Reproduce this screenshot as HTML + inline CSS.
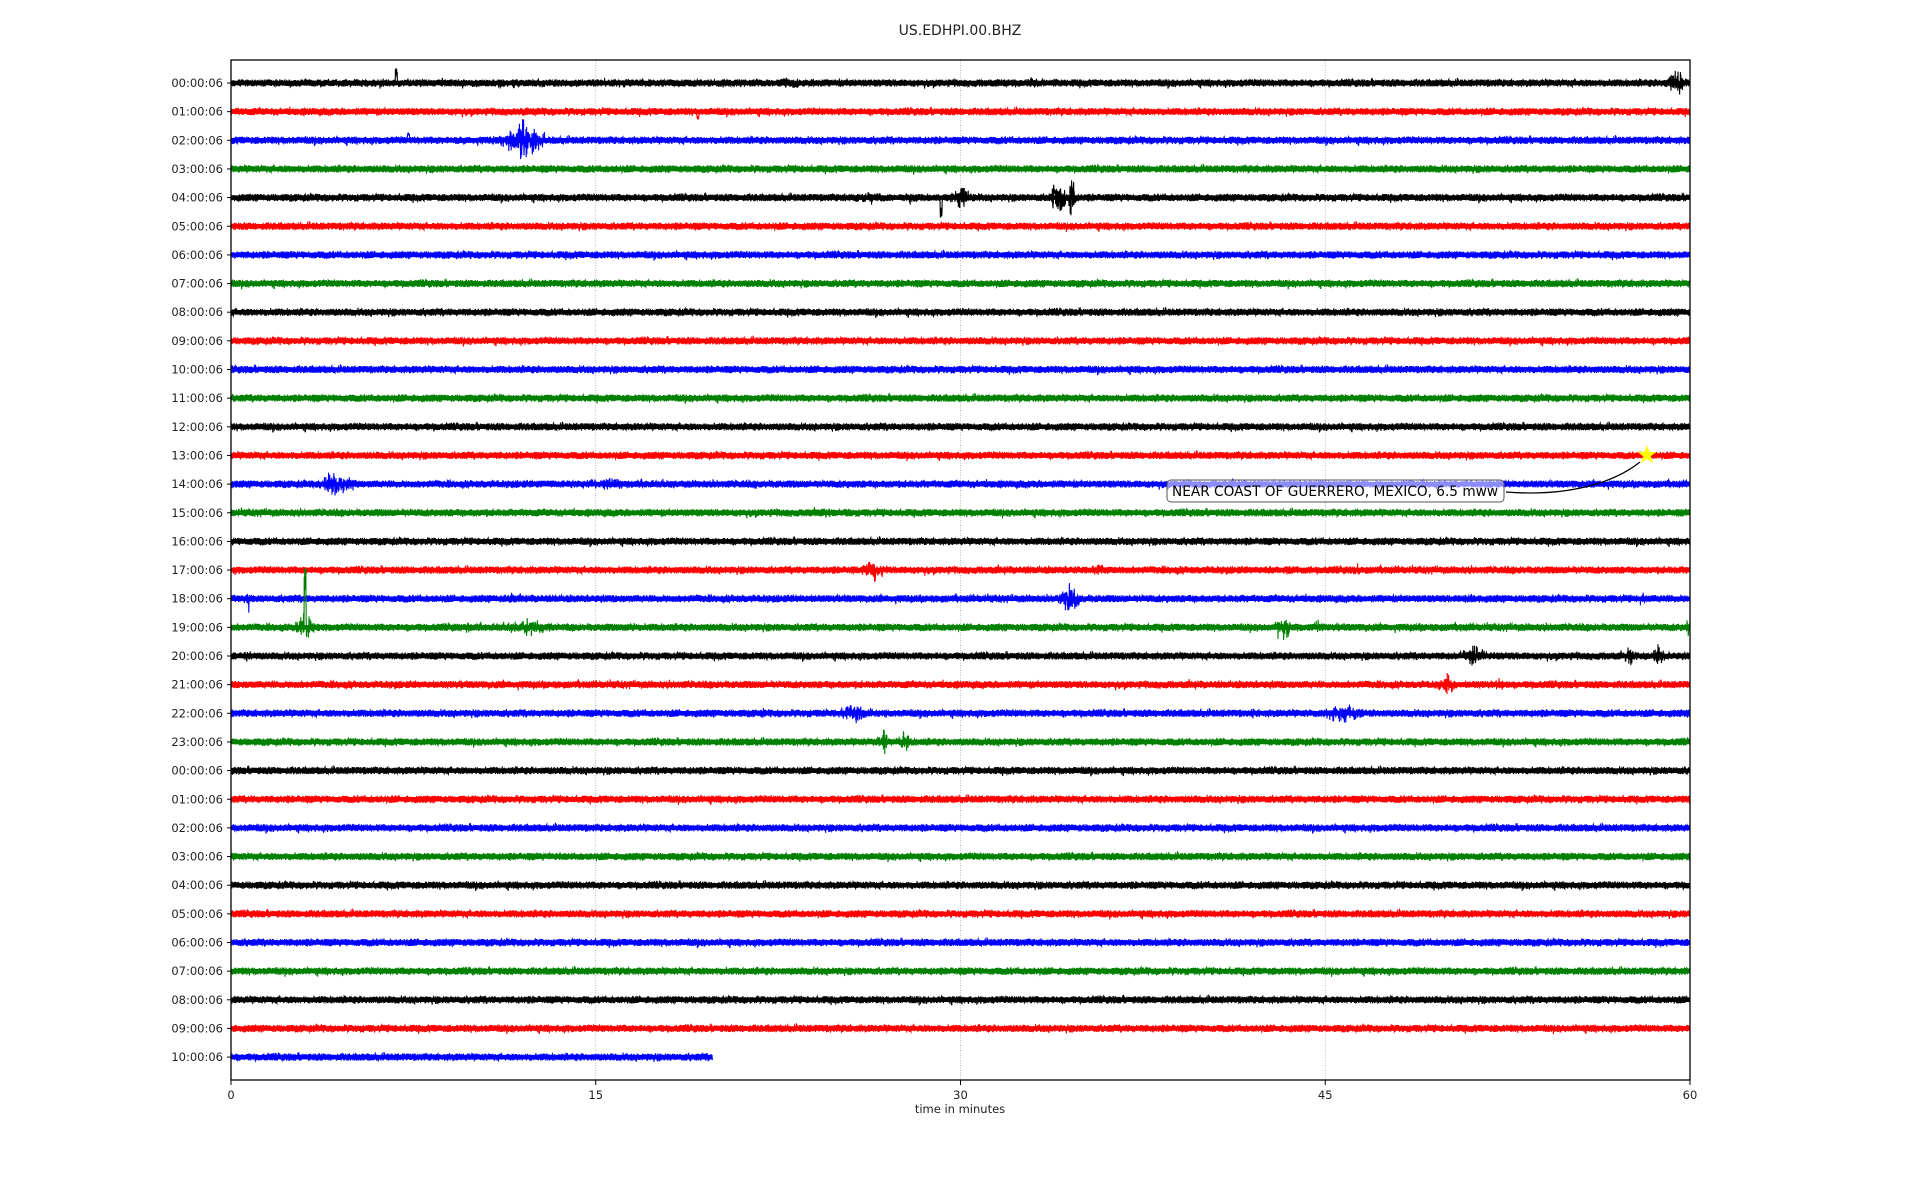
<!DOCTYPE html>
<html><head><meta charset="utf-8"><style>
html,body{margin:0;padding:0;background:#fff;width:1920px;height:1200px;overflow:hidden}
svg{display:block}
text{font-family:"DejaVu Sans","Liberation Sans",sans-serif;fill:#222}
</style></head><body>
<svg id="s" width="1920" height="1200" xmlns="http://www.w3.org/2000/svg">
<text x="960" y="35" text-anchor="middle" font-size="14">US.EDHPI.00.BHZ</text>
<text x="960" y="1113" text-anchor="middle" font-size="11.5">time in minutes</text>
<g id="grid"></g>
<g id="traces"></g>
<g id="axes"></g>
<path d="M1506,492 C1570,497 1615,482 1640,462" fill="none" stroke="#000" stroke-width="1.3"/>
<rect x="1167" y="480" width="337" height="22" rx="4" fill="#fff" fill-opacity="0.55" stroke="#555" stroke-width="1"/>
<text x="1172" y="496" font-size="14" textLength="326" lengthAdjust="spacingAndGlyphs" style="fill:#000">NEAR COAST OF GUERRERO, MEXICO, 6.5 mww</text>
<polygon id="star" fill="#ffff00"/>
</svg>
<script>
var L=231,R=1690,T=60,B=1080,y0=83,dy=28.65;
function px(m){return L+(R-L)*m/60;}
var cols=["#000","#f00","#00f","#008000"];
var labels=[];for(var i=0;i<24;i++)labels.push(i);for(var i=0;i<=10;i++)labels.push(i);
var ev={0:[[6.8,15,0.1,1],[12.8,5,1],[23,6,1.5],[33,5,1.5],[59.5,15,0.6]],
1:[[12,4,0.6],[19.2,8,0.1,-1]],
2:[[7.3,8,0.1,1],[9.5,6,0.2],[12,22,1.2]],
4:[[26.3,8,1],[27.9,10,0.3],[29.2,20,0.1,-1],[30,12,0.8],[34,20,0.5],[34.6,30,0.2]],
14:[[4.4,14,1.2],[15.5,6,3]],15:[[24.5,5,1]],
17:[[26.4,14,0.8],[35.7,6,1],[43.5,5,1],[46.3,8,0.2]],
18:[[0.7,12,0.2],[11.5,8,0.3],[34.5,20,0.6],[51,6,0.4],[58,10,0.2]],
19:[[3,15,0.8],[3.05,60,0.05,1],[9.8,7,0.6],[12.2,10,1.6],[16.5,6,0.3],[43.3,14,0.6],[44.7,8,0.4],[59.9,10,0.2]],
20:[[0.7,8,0.3],[51.1,12,0.9],[57.5,12,0.3],[58.7,10,0.5]],
21:[[50,12,0.6],[52.2,8,0.4]],
22:[[21.9,7,0.2],[25.7,10,1.4],[42,6,0.2],[45.7,12,1.2]],
23:[[26.8,18,0.3],[27.7,12,0.4]],
27:[[13.5,4,0.5]]};
var seed=12345;function rnd(){seed=(seed*1103515245+12345)%2147483648;return seed/2147483648;}
var g=document.getElementById("traces"),out="";
for(var r=0;r<35;r++){
 var y=y0+r*dy,end=(r==34)?19.8:60,e=ev[r]||[];
 var pts=[];
 for(var x=L;x<=px(end);x+=0.2){
  var m=(x-L)/(R-L)*60,a=3.6;
  var extra=0,sgn=0;
  for(var k=0;k<e.length;k++){var d=Math.abs(m-e[k][0]);if(d<e[k][2]){var w=1-d/e[k][2];if(e[k][3]){if(d<0.04){extra=Math.max(extra,e[k][1]);sgn=e[k][3];}}else a=Math.max(a,e[k][1]*w*(rnd()<0.3?1:0.5));}}
  var v=(rnd()*2-1)*a;
  if(rnd()<0.01)v*=1.6;
  if(sgn){v=sgn*extra*(rnd()*0.5+0.5)*-1;}
  pts.push(x.toFixed(1)+","+(y+v).toFixed(1));
 }
 out+='<polyline fill="none" stroke="'+cols[r%4]+'" stroke-width="1.1" points="'+pts.join(" ")+'"/>';
 out+='<line x1="'+L+'" y1="'+y+'" x2="'+px(end)+'" y2="'+y+'" stroke="'+cols[r%4]+'" stroke-width="4.5"/>';
}
g.innerHTML=out;
var gr="";for(var k=1;k<4;k++){var x=px(k*15);gr+='<line x1="'+x+'" y1="'+T+'" x2="'+x+'" y2="'+B+'" stroke="#aaa" stroke-width="0.8" stroke-dasharray="1,1.5"/>';}
document.getElementById("grid").innerHTML=gr;
var ax='<rect x="'+L+'" y="'+T+'" width="'+(R-L)+'" height="'+(B-T)+'" fill="none" stroke="#000" stroke-width="1.3"/>';
for(var r=0;r<35;r++){var y=y0+r*dy;ax+='<line x1="'+(L-4)+'" y1="'+y+'" x2="'+L+'" y2="'+y+'" stroke="#000"/>';
 var h=labels[r];ax+='<text x="'+(L-8)+'" y="'+(y+4)+'" text-anchor="end" font-size="11.5">'+(h<10?"0":"")+h+':00:06</text>';}
for(var k=0;k<5;k++){var x=px(k*15);ax+='<line x1="'+x+'" y1="'+B+'" x2="'+x+'" y2="'+(B+5)+'" stroke="#000"/><text x="'+x+'" y="'+(B+19)+'" text-anchor="middle" font-size="11.5">'+(k*15)+'</text>';}
document.getElementById("axes").innerHTML=ax;
var sp=[],cx=1647,cy=455;for(var i=0;i<10;i++){var rr=i%2?4:10,an=-Math.PI/2+i*Math.PI/5;sp.push((cx+rr*Math.cos(an)).toFixed(1)+","+(cy+rr*Math.sin(an)).toFixed(1));}
document.getElementById("star").setAttribute("points",sp.join(" "));
</script>
</body></html>
